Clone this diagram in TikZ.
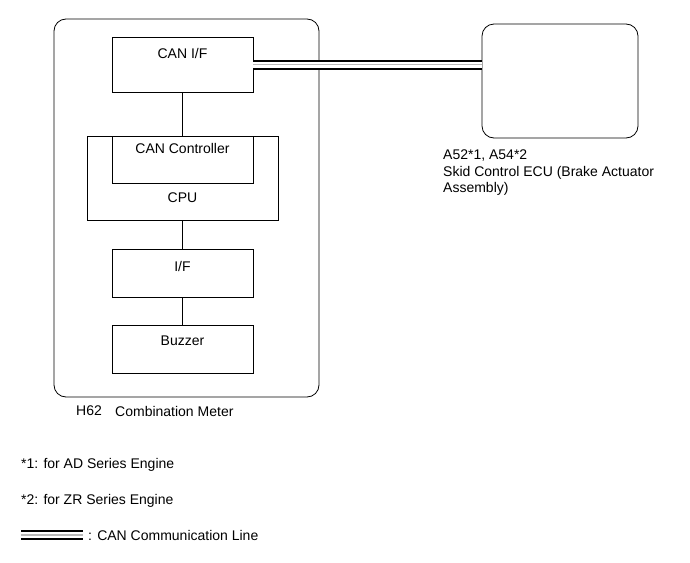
\documentclass[tikz,border=0pt]{standalone}
\usepackage{fontspec}
\setmainfont{Liberation Sans}
\usetikzlibrary{positioning}

\tikzset{
  blk/.style={draw, line width=0.8pt, minimum width=141pt, minimum height=55pt, inner sep=0pt},
  unit/.style={draw, line width=0.8pt, rounded corners=12pt, inner sep=0pt},
  txt/.style={inner sep=0pt},
  wire/.style={draw, line width=0.6pt},
  canline/.style={line width=10pt, black,
    postaction={draw, white, line width=6pt},
    postaction={draw, gray!55, line width=1.4pt}}
}

\begin{document}
\begin{tikzpicture}[x=1pt, y=-1pt, font=\fontsize{14}{16}\selectfont]
\useasboundingbox (0,0) rectangle (690,562);
% combination meter
\node[unit, minimum width=265pt, minimum height=378pt] (meter) at (186.5,208) {};
\node[blk] (canif) at (182.5,64.5) {};
\node[blk, minimum width=191pt, minimum height=84pt] (cpu) at (182.5,178) {};
\node[blk, minimum height=47pt] (canctl) at (182.5,159.5) {};
\node[blk, minimum height=48pt] (iface) at (182.5,273) {};
\node[blk, minimum height=48pt] (buzzer) at (182.5,349) {};
\node[txt] (canift) at ([yshift=-17pt]canif.north) {CAN I/F};
\node[txt] (canctlt) at ([yshift=-13pt]canctl.north) {CAN Controller};
\node[txt] (cput) at ([yshift=-14pt]canctl.south) {CPU};
\node[txt] (ifacet) at ([yshift=-18pt]iface.north) {I/F};
\node[txt] (buzzert) at ([yshift=-16pt]buzzer.north) {Buzzer};
\node[txt, anchor=west] (h62) at (76,411) {H62};
\node[txt, anchor=west] (metert) at (115,411) {Combination Meter};
% skid control ECU
\node[unit, minimum width=156pt, minimum height=114pt] (ecu) at (560,81) {};
\node[txt, anchor=west] (ecuno) at (443,156) {A52*1, A54*2};
\node[txt, anchor=north west, align=left] (ecut) at (443,166) {Skid Control ECU (Brake Actuator\\Assembly)};
% connections
\draw[wire] (canif.south) -- (cpu.north);
\draw[wire] (cpu.south) -- (iface.north);
\draw[wire] (iface.south) -- (buzzer.north);
\draw[canline] (canif.east) -- (canif.east -| ecu.west);
% notes
\node[txt, anchor=west] (note1) at (21,465) {*1: for AD Series Engine};
\node[txt, anchor=west] (note2) at (21,501) {*2: for ZR Series Engine};
\coordinate (lgA) at (21,535);
\coordinate (lgB) at (83,535);
\draw[canline] (lgA) -- (lgB);
\node[txt, anchor=west] (lgt) at (88,535) {: CAN Communication Line};
\end{tikzpicture}
\end{document}
